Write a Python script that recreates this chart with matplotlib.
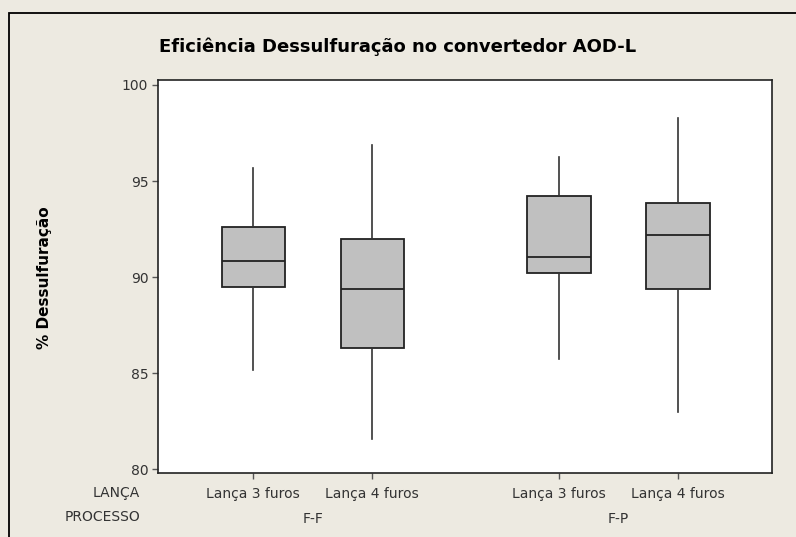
import matplotlib
import matplotlib.pyplot as plt
from matplotlib.patches import Rectangle

matplotlib.use('Agg')

# data (boxplot summary per group)
lanca = ['Lança 3 furos', 'Lança 4 furos', 'Lança 3 furos', 'Lança 4 furos']
processo = ['F-F', 'F-P']
whisker_low = [85.16, 81.55, 85.76, 82.95]
q1 = [89.46, 86.32, 90.22, 89.36]
median = [90.83, 89.37, 91.04, 92.19]
q3 = [92.62, 91.96, 94.22, 93.87]
whisker_high = [95.68, 96.88, 96.27, 98.28]

bg = '#EDEAE1'
fig = plt.figure(figsize=(7.96, 5.37), dpi=100, facecolor=bg)

# outer frame (cut by the image on the right and bottom)
fig.patches.append(Rectangle((9 / 796, -0.1), 1.2, 1 - 13 / 537 + 0.1,
                             transform=fig.transFigure, fill=False,
                             edgecolor='black', linewidth=1.3))

ax = fig.add_axes([158 / 796, 1 - 473 / 537, 614 / 796, 393 / 537])
ax.set_facecolor('white')

positions = [1, 2, 3.57, 4.57]
stats = []
for i in range(len(lanca)):
    stats.append({'whislo': whisker_low[i], 'q1': q1[i], 'med': median[i],
                  'q3': q3[i], 'whishi': whisker_high[i], 'fliers': []})

ax.bxp(stats, positions=positions, widths=0.53, patch_artist=True,
       showcaps=False, showfliers=False,
       boxprops=dict(facecolor='#C0C0C0', edgecolor='#222222', linewidth=1.3),
       medianprops=dict(color='#222222', linewidth=1.3),
       whiskerprops=dict(color='#333333', linewidth=1.2))

ax.set_xlim(0.2, 5.36)
ax.set_ylim(79.8, 100.26)
ax.set_yticks([80, 85, 90, 95, 100])
ax.tick_params(axis='y', direction='out', length=4, width=1, color='#555555',
               labelsize=10, pad=3, labelcolor='#333333')
ax.set_xticks(positions)
ax.set_xticklabels(lanca)
ax.tick_params(axis='x', direction='out', length=4, width=1, color='#555555',
               labelsize=10, pad=6, labelcolor='#333333')
for s in ax.spines.values():
    s.set_linewidth(1.2)
    s.set_color('#222222')

# group labels under the category labels
for j, name in enumerate(processo):
    xc = (positions[2 * j] + positions[2 * j + 1]) / 2
    ax.annotate(name, xy=(xc, 0), xycoords=('data', 'axes fraction'),
                xytext=(0, -28), textcoords='offset points',
                ha='center', va='top', fontsize=10, color='#333333')

fig.text(140 / 796, 1 - 493 / 537, 'LANÇA', ha='right', va='center',
         fontsize=10, color='#333333')
fig.text(140 / 796, 1 - 517 / 537, 'PROCESSO', ha='right', va='center',
         fontsize=10, color='#333333')

fig.text(398 / 796, 1 - 47 / 537, 'Eficiência Dessulfuração no convertedor AOD-L',
         ha='center', va='center', fontsize=13, fontweight='bold')
fig.text(45 / 796, 1 - 278 / 537, '% Dessulfuração', ha='center', va='center',
         rotation=90, fontsize=11, fontweight='bold')

fig.savefig('out.png', dpi=100, facecolor=bg)
